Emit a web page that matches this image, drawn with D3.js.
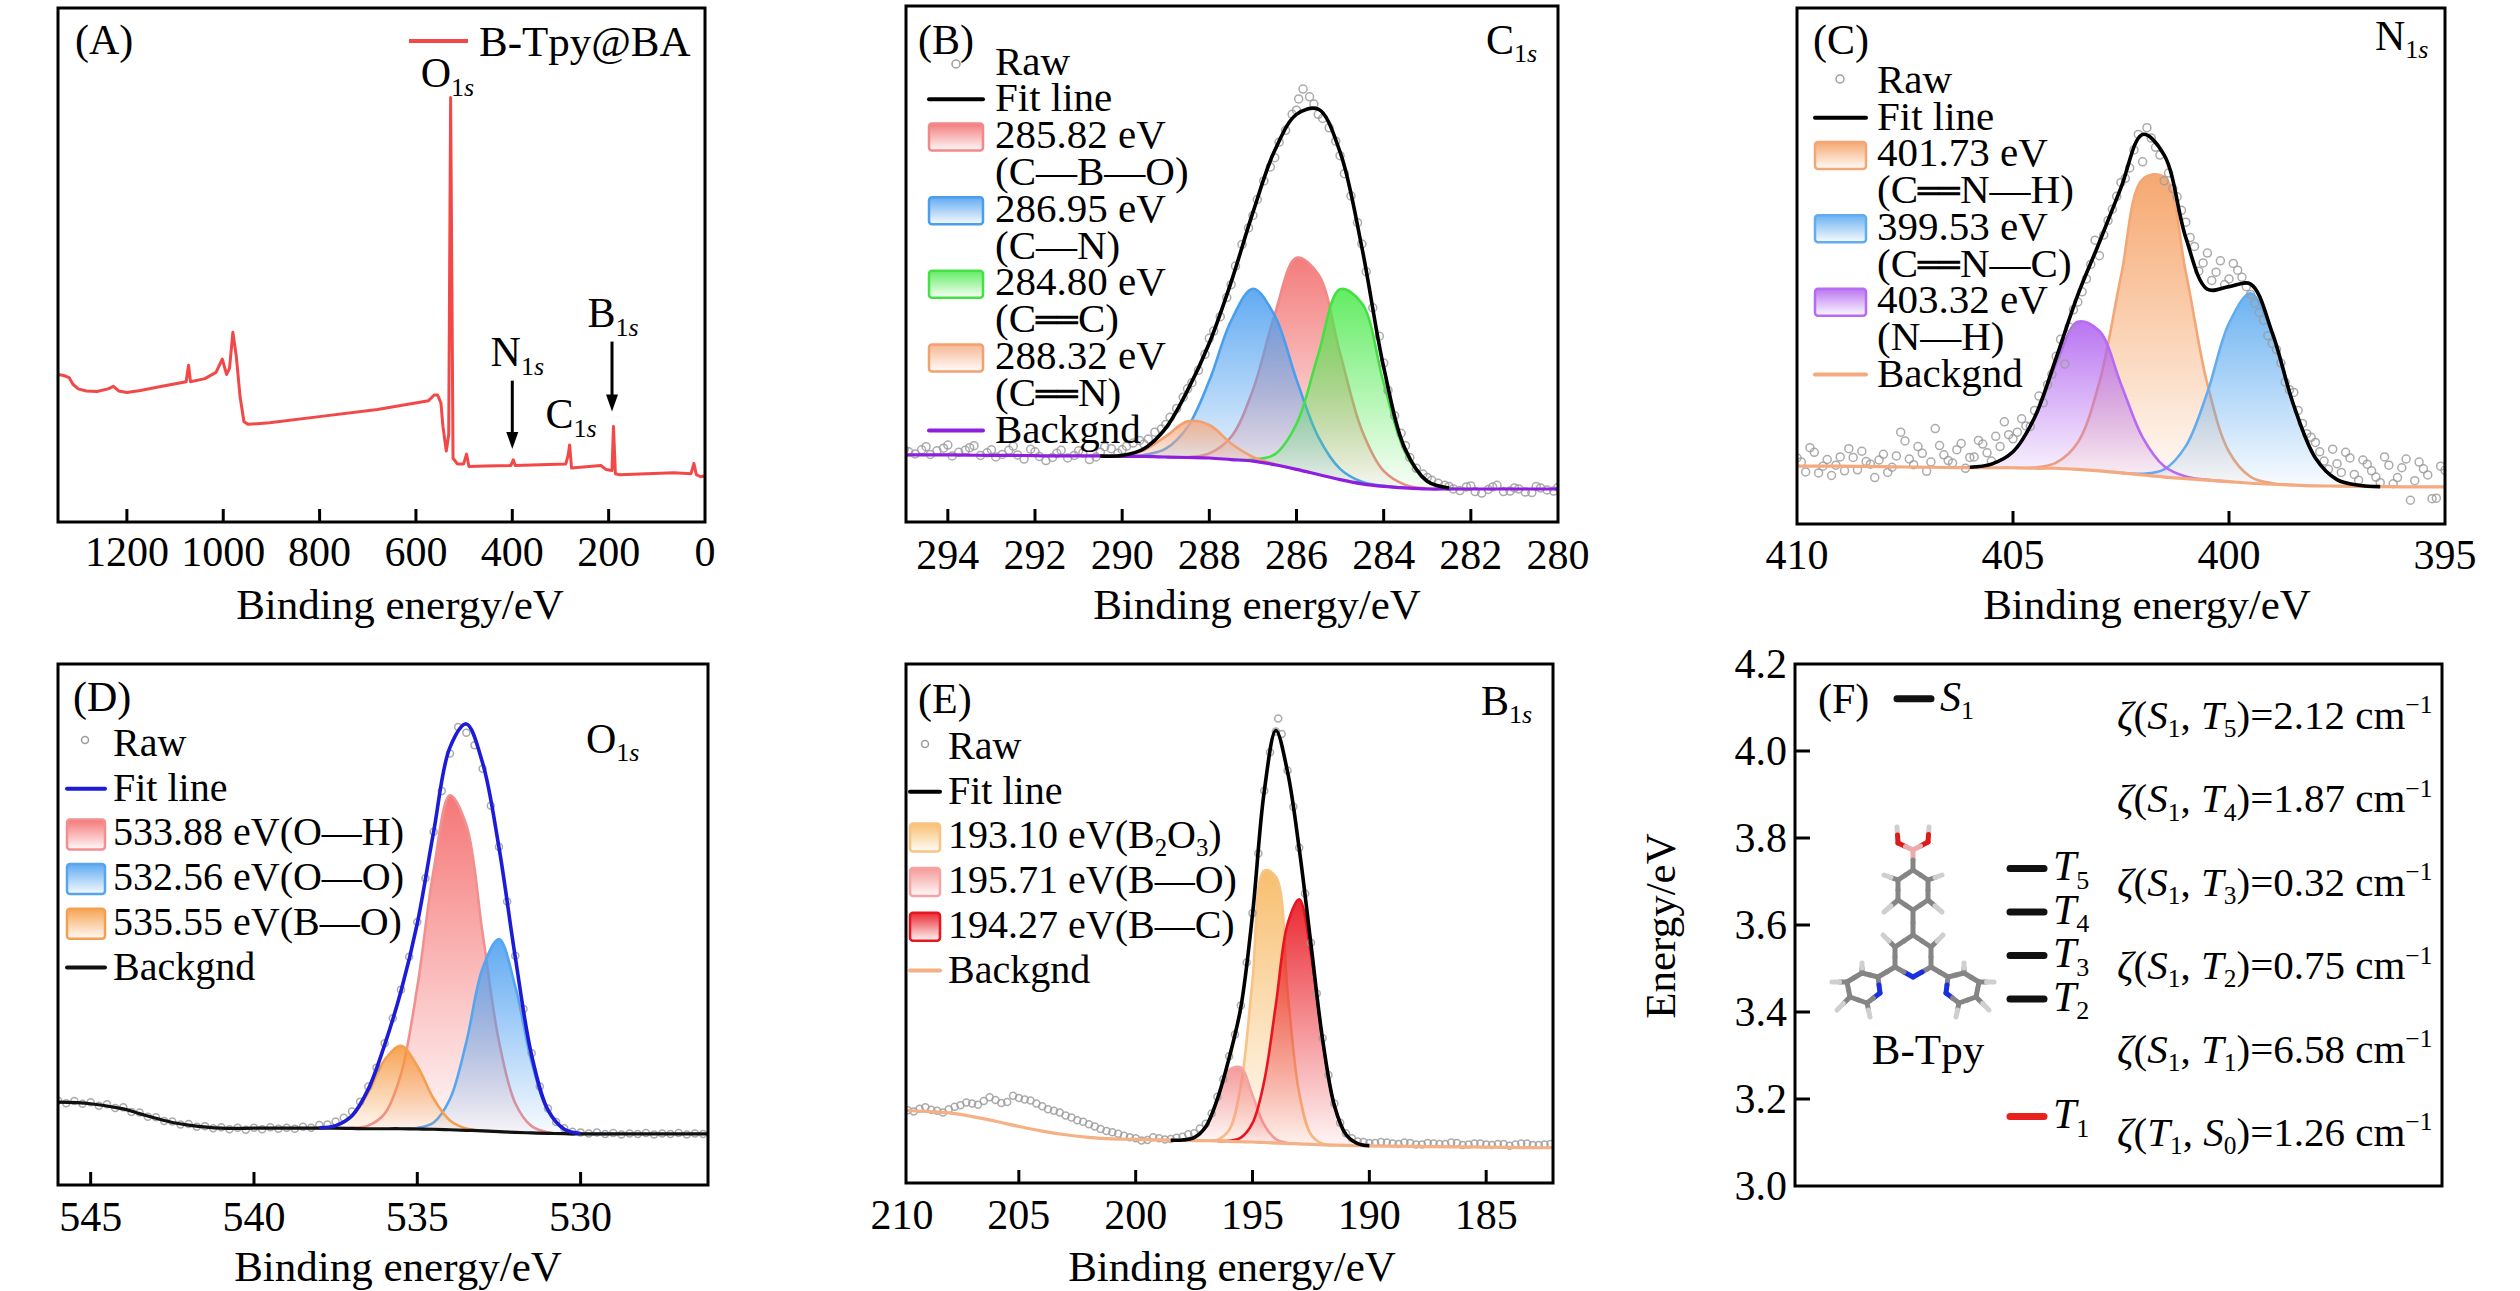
<!DOCTYPE html>
<html><head><meta charset="utf-8">
<script src="https://cdn.jsdelivr.net/npm/d3@7"></script>
<style>
html,body{margin:0;padding:0;background:#fff;}
svg{display:block;}
text{font-family:"Liberation Serif","Times New Roman",serif;fill:#000;}
</style></head><body>
<svg id="chart" width="2520" height="1291"></svg>
<script>
// ================= DATA =================
// Panel A: survey spectrum (intensity in % of plot height)
const aEnergy = [1343,1331,1320,1312,1301,1284,1262,1239,1228,1217,1200,1172,1127,1077,1072,1068,1038,1015,1002,993,987,980,973,965,957,948,904,792,680,574,562,555,548,544,537,532,528,523,514,501,495,490,456,403,398,394,289,284,281,277,216,205,193,190,186,177,65,29,23,18,9,0];
const aIntensity = [28.7,28.5,28.1,26.8,25.9,25.5,25.4,25.9,26.4,25.5,25.2,25.6,26.4,27.3,30.5,27.3,27.9,29.1,31.7,28.7,29.9,36.9,32.3,24.3,19.5,19.0,19.3,20.6,21.9,23.6,24.7,24.7,23.1,18.6,13.8,17.0,82.6,12.4,11.3,11.3,13.2,10.8,10.9,11.0,12.1,11.0,11.3,13.0,15.0,10.5,11.0,10.2,10.0,18.6,9.4,9.2,9.6,9.4,11.4,9.2,8.8,9.0];
const aTicks = [1200,1000,800,600,400,200,0];
const aPeakLabels = [
  {name:"O", e:590, v:84.6},
  {name:"N", e:445, v:30.3},
  {name:"C", e:331, v:18.2},
  {name:"B", e:244, v:37.9}
];
const aArrows = [{e:400, from:27.5, to:14.2},{e:193, from:35.1, to:21.5}];

// Panel B: C1s
const bEnergy = [295,294.5,294,293.5,293,292.5,292,291.5,291,290.5,290,289.5,289,288.5,288,287.5,287,286.5,286,285.5,285,284.5,284,283.5,283,282.5,282,281.5,281,280.5,280];
const bBackground = [13.0,13.0,13.0,12.95,12.9,12.9,12.85,12.8,12.8,12.8,12.7,12.7,12.6,12.5,12.4,12.1,11.8,11.1,10.2,9.2,8.2,7.4,6.9,6.6,6.4,6.4,6.4,6.4,6.4,6.4,6.4];
const bFit = [null,null,null,null,null,null,null,null,null,12.8,12.9,14.2,18.2,25.5,34.7,46.5,60.0,72.0,79.0,80.0,71.7,53.2,30.0,14.0,7.9,6.6,null,null,null,null,null];
const bPeakCBO = [null,null,null,null,null,null,null,null,null,null,null,null,null,12.6,13.3,16.5,25.6,40.2,51.2,48.0,32.7,17.8,9.9,7.2,6.5,null,null,null,null,null,null];
const bPeakCN = [null,null,null,null,null,null,null,null,null,null,12.75,13.0,14.2,18.4,27.4,39.0,45.2,40.0,27.6,16.5,10.3,7.8,7.0,null,null,null,null,null,null,null,null];
const bPeakCC = [null,null,null,null,null,null,null,null,null,null,null,null,null,null,null,null,12.1,13.1,19.0,32.5,45.1,42.4,26.9,13.4,7.8,6.6,null,null,null,null,null];
const bPeakCdN = [null,null,null,null,null,null,null,null,null,null,12.9,13.9,16.6,19.5,18.8,15.2,12.6,11.2,null,null,null,null,null,null,null,null,null,null,null,null,null];
const bRaw = [[295,14.1],[294.75,13.2],[294.5,14.6],[294.25,13.8],[294,14.9],[293.75,13.5],[293.5,14.4],[293.25,12.9],[293,14.0],[292.75,13.1],[292.5,14.7],[292.25,12.2],[292,13.6],[291.75,11.9],[291.5,13.3],[291.25,12.4],[291,13.8],[290.75,12.1],[290.5,13.5],[290.25,14.2],[290,14.0],[289.75,15.3],[289.5,15.1],[289.25,17.4],[289,18.9],[288.75,22.0],[288.5,25.8],[288.25,29.4],[288,35.6],[287.75,39.8],[287.5,46.0],[287.25,53.8],[287,59.4],[286.75,66.1],[286.5,70.6],[286.25,75.9],[286.1,79.0],[286,79.8],[285.85,83.9],[285.7,82.4],[285.5,79.0],[285.25,76.4],[285,71.0],[284.75,63.2],[284.5,53.9],[284.25,41.5],[284,30.8],[283.75,20.6],[283.5,14.8],[283.25,10.4],[283,8.6],[282.75,7.5],[282.5,6.9],[282.25,6.1],[282,7.0],[281.75,5.6],[281.5,6.8],[281.25,5.9],[281,6.6],[280.75,5.8],[280.5,6.9],[280.25,6.2],[280,6.7],
[294.9,13.6],[294.6,14.0],[294.4,13.1],[294.1,14.3],[293.9,12.8],[293.6,13.9],[293.4,14.8],[293.1,13.4],[292.9,12.6],[292.6,13.9],[292.4,13.0],[292.1,14.1],[291.9,12.7],[291.6,12.5],[291.4,13.9],[291.1,12.9],[290.9,13.4],[290.6,12.6],[290.4,14.6],[290.1,13.3],[289.9,14.7],[289.6,15.8],[289.4,16.1],[289.1,18.0],[288.9,20.3],[288.6,24.2],[288.4,27.0],[288.1,32.5],[287.9,37.0],[287.6,43.5],[287.4,49.6],[287.1,57.0],[286.9,62.5],[286.6,68.8],[286.4,73.6],[285.95,82.0],[285.6,81.0],[285.4,78.2],[285.1,73.8],[284.9,67.5],[284.6,58.0],[284.4,48.5],[284.1,36.0],[283.9,25.5],[283.6,17.2],[283.4,12.5],[283.1,9.3],[282.9,8.1],[282.6,7.1],[282.4,6.4],[282.1,6.8],[281.9,5.9],[281.6,6.3],[281.4,7.1],[281.1,6.0],[280.9,6.4],[280.6,5.7],[280.4,6.6],[280.1,6.0]];
const bTicks = [294,292,290,288,286,284,282,280];

// Panel C: N1s
const cEnergy = [410,409.5,409,408.5,408,407.5,407,406.5,406,405.5,405,404.5,404,403.5,403,402.5,402,401.5,401,400.5,400,399.5,399,398.5,398,397.5,397,396.5,396,395.5,395];
const cBackground = [11.2,11.2,11.2,11.15,11.1,11.05,11.0,10.95,10.9,10.9,10.9,10.8,10.8,10.6,10.3,9.9,9.5,9.1,8.8,8.5,8.2,7.9,7.7,7.55,7.4,7.35,7.3,7.25,7.2,7.2,7.2];
const cFit = [null,null,null,null,null,null,null,null,11.0,11.6,14.0,20.65,32.2,44.4,54.6,65.2,75.5,71.5,55.5,45.5,46.0,46.5,37.1,22.95,12.8,8.6,7.5,7.25,null,null,null];
const cPeakCNH = [null,null,null,null,null,null,null,null,null,null,null,10.95,11.9,15.8,27.5,48.0,66.8,67.3,48.8,27.1,14.0,9.15,7.9,null,null,null,null,null,null,null,null];
const cPeakCNC = [null,null,null,null,null,null,null,null,null,null,null,null,null,null,null,null,9.75,10.6,15.1,25.5,38.9,44.7,36.9,23.0,12.8,8.6,7.5,null,null,null,null];
const cPeakNH = [null,null,null,null,null,null,null,null,11.0,11.6,14.0,20.5,31.1,39.2,37.4,27.1,16.8,11.2,9.2,8.55,null,null,null,null,null,null,null,null,null,null,null];
const cRaw = [[410.0,12.8],[409.8,10.1],[409.6,13.9],[409.4,11.2],[409.2,9.4],[409.0,13.0],[408.8,14.6],[408.6,10.5],[408.4,12.1],[408.2,9.0],[408.0,13.5],[407.8,11.0],[407.6,17.8],[407.4,12.6],[407.2,15.0],[407.0,10.2],[406.8,18.5],[406.6,13.4],[406.4,11.8],[406.2,15.6],[406.0,12.9],[405.8,16.2],[405.6,13.8],[405.4,17.0],[405.2,19.8],[405.0,16.5],[404.8,20.4],[404.6,18.9],[404.4,24.8],[404.2,27.0],[404.0,32.5],[403.8,31.0],[403.6,41.5],[403.4,45.0],[403.2,50.3],[403.0,52.0],[402.8,58.8],[402.6,63.5],[402.4,67.0],[402.2,72.5],[402.0,70.2],[401.8,74.8],[401.6,71.5],[401.4,68.0],[401.2,63.4],[401.0,58.5],[400.8,53.8],[400.6,50.6],[400.4,47.2],[400.2,51.0],[400.0,47.5],[399.8,49.2],[399.6,46.0],[399.4,42.8],[399.2,39.5],[399.0,35.0],[398.8,31.2],[398.6,26.0],[398.4,22.0],[398.2,17.5],[398.0,15.8],[397.8,12.2],[397.6,14.5],[397.4,10.0],[397.2,12.8],[397.0,8.5],[396.8,11.6],[396.6,9.1],[396.4,13.0],[396.2,7.8],[396.0,10.9],[395.8,4.6],[395.6,12.0],[395.4,9.5],[395.2,5.0],[395.0,10.4],
[409.9,12.0],[409.7,14.8],[409.5,9.9],[409.3,12.5],[409.1,11.4],[408.9,10.3],[408.7,12.9],[408.5,14.1],[408.3,11.6],[408.1,12.4],[407.9,10.0],[407.7,13.2],[407.5,16.1],[407.3,11.5],[407.1,13.7],[406.9,12.0],[406.7,15.2],[406.5,12.3],[406.3,14.4],[406.1,10.8],[405.9,13.0],[405.7,15.5],[405.5,12.2],[405.3,15.0],[405.1,17.3],[404.9,17.8],[404.7,19.0],[404.5,22.0],[404.3,23.5],[404.1,29.0],[403.9,35.8],[403.7,38.2],[403.5,43.0],[403.3,47.5],[403.1,55.0],[402.9,56.0],[402.7,61.0],[402.5,66.2],[402.3,69.0],[402.1,75.5],[401.9,76.8],[401.7,73.0],[401.5,66.5],[401.3,65.0],[401.1,60.8],[400.9,55.5],[400.7,49.0],[400.5,52.5],[400.3,48.8],[400.1,46.4],[399.9,50.5],[399.7,47.8],[399.5,44.5],[399.3,41.0],[399.1,36.5],[398.9,33.8],[398.7,27.5],[398.5,25.5],[398.3,19.5],[398.1,16.8],[397.9,14.0],[397.7,10.6],[397.5,11.7],[397.3,13.9],[397.1,9.6],[396.9,12.4],[396.7,10.3],[396.5,8.0],[396.3,11.4],[396.1,9.0],[395.9,12.6],[395.7,8.4],[395.5,10.7],[395.3,4.9],[395.1,11.2]];
const cTicks = [410,405,400,395];

// Panel D: O1s
const dEnergy = [546,545,544,543.5,543,542.5,542,541,540,539,538,537.5,537,536.5,536,535.5,535,534.5,534,533.5,533,532.5,532,531.5,531,530.5,530,529,528,527,526];
const dBackground = [15.9,15.6,14.6,13.7,12.8,12.0,11.5,10.9,10.9,10.9,10.9,10.9,10.85,10.8,10.8,10.8,10.75,10.7,10.6,10.5,10.4,10.25,10.1,10.0,9.9,9.85,9.8,9.8,9.8,9.8,9.8];
const dFit = [null,null,null,null,null,null,null,null,null,null,10.97,11.4,13.3,18.4,26.9,37.2,50.2,67.8,84.0,88.5,81.0,64.8,43.7,24.9,14.4,10.7,9.9,null,null,null,null];
const dPeakOH = [null,null,null,null,null,null,null,null,null,null,null,null,10.93,11.4,13.7,21.3,38.0,60.4,74.8,69.1,48.3,27.6,15.7,11.3,10.1,null,null,null,null,null,null];
const dPeakOO = [null,null,null,null,null,null,null,null,null,null,null,null,null,null,null,null,10.95,12.0,16.5,27.4,41.6,47.2,38.1,23.6,14.2,10.7,9.9,null,null,null,null];
const dPeakBO = [null,null,null,null,null,null,null,null,null,null,10.97,11.4,13.2,17.8,24.0,26.7,22.85,16.55,12.4,10.85,10.45,null,null,null,null,null,null,null,null,null,null];
const dRaw = [[546,16.2],[545.75,15.7],[545.5,16.1],[545.25,15.6],[545,15.9],[544.75,15.2],[544.5,15.5],[544.25,14.8],[544,14.9],[543.75,14.0],[543.5,13.9],[543.25,13.1],[543,13.0],[542.75,12.3],[542.5,12.2],[542.25,11.6],[542,11.7],[541.75,11.2],[541.5,11.3],[541.25,10.9],[541,11.1],[540.75,10.7],[540.5,11.0],[540.25,10.6],[540,11.0],[539.75,10.7],[539.5,11.1],[539.25,10.8],[539,11.0],[538.75,10.8],[538.5,11.2],[538.25,11.0],[538,11.5],[537.75,11.6],[537.5,12.2],[537.25,12.9],[537,14.1],[536.75,16.0],[536.5,18.9],[536.25,22.5],[536,27.2],[535.75,32.0],[535.5,37.5],[535.25,43.8],[535,50.5],[534.75,58.9],[534.5,67.8],[534.25,75.6],[534,82.8],[533.75,87.9],[533.5,86.8],[533.25,84.4],[533,79.9],[532.75,72.8],[532.5,64.9],[532.25,54.4],[532,44.0],[531.75,33.8],[531.5,25.3],[531.25,18.9],[531,14.7],[530.75,12.1],[530.5,10.9],[530.25,10.2],[530,10.1],[529.75,9.9],[529.5,10.1],[529.25,9.8],[529,10.0],[528.75,9.7],[528.5,9.9],[528.25,9.8],[528,10.0],[527.75,9.7],[527.5,9.9],[527.25,9.8],[527,10.0],[526.75,9.7],[526.5,9.9],[526.25,9.8],[526,9.9]];
const dTicks = [545,540,535,530];

// Panel E: B1s
const eEnergy = [210,209,208,207,206,205,204,203,202,201,200,199,198.5,198,197.5,197,196.5,196,195.5,195,194.5,194,193.5,193,192.5,192,191.5,191,190.5,190,189,188,187,186,185,184,183,182];
const eBackground = [14.0,13.8,13.5,12.8,11.9,10.9,10.0,9.3,8.8,8.5,8.4,8.3,8.25,8.2,8.18,8.15,8.1,8.0,7.95,7.9,7.8,7.7,7.6,7.55,7.45,7.35,7.3,7.25,7.2,7.15,7.1,7.05,7.0,6.95,6.9,6.85,6.8,6.8];
const eFit = [null,null,null,null,null,null,null,null,null,null,null,null,8.25,8.27,8.75,10.85,16.26,24.1,33.85,51.75,75.4,87.2,79.2,64.35,46.05,27.66,15.0,9.35,7.6,7.2,null,null,null,null,null,null,null,null];
const ePeakB2O3 = [null,null,null,null,null,null,null,null,null,null,null,null,null,null,null,null,8.36,10.2,18.75,39.1,60.2,59.0,36.8,17.25,9.35,7.56,null,null,null,null,null,null,null,null,null,null,null,null];
const ePeakBO = [null,null,null,null,null,null,null,null,null,null,null,null,null,8.27,8.75,10.85,16.0,21.8,22.25,16.9,11.2,8.46,7.7,null,null,null,null,null,null,null,null,null,null,null,null,null,null,null];
const ePeakBC = [null,null,null,null,null,null,null,null,null,null,null,null,null,null,null,null,null,8.12,8.75,11.55,19.6,34.4,49.9,54.65,44.15,27.45,15.0,9.35,7.6,null,null,null,null,null,null,null,null,null];
const eRaw = [[210,14.4],[209.5,13.8],[209,14.6],[208.5,13.9],[208,14.2],[207.5,15.0],[207,15.3],[206.5,15.8],[206,16.0],[205.5,15.6],[205,16.4],[204.5,15.9],[204,14.8],[203.5,13.9],[203,13.0],[202.5,12.1],[202,11.3],[201.5,10.4],[201,9.8],[200.5,9.1],[200,8.6],[199.5,8.3],[199,8.6],[198.5,8.5],[198,8.9],
[209.75,14.0],[209.25,14.3],[208.75,14.1],[208.25,13.6],[207.75,14.7],[207.25,15.5],[206.75,15.1],[206.25,16.5],[205.75,15.4],[205.25,16.8],[204.75,16.1],[204.25,15.3],[203.75,14.2],[203.25,13.6],[202.75,12.6],[202.25,11.8],[201.75,10.9],[201.25,10.0],[200.75,9.5],[200.25,8.8],[199.75,8.2],[199.25,8.8],[198.75,8.4],[198.25,8.7],
[197.75,9.4],[197.5,9.6],[197.25,10.5],[197,11.4],[196.75,13.4],[196.5,16.6],[196.25,20.0],[196,24.4],[195.75,28.6],[195.5,34.2],[195.25,42.5],[195,52.0],[194.75,63.5],[194.5,75.6],[194.25,83.0],[194,87.0],[193.9,89.5],[193.75,86.5],[193.5,79.5],[193.25,72.5],[193,64.6],[192.75,55.8],[192.5,46.3],[192.25,36.5],[192,27.9],[191.75,20.8],[191.5,15.3],[191.25,11.6],[191,9.6],[190.75,8.6],[190.5,8.0],[190.25,7.9],[190,7.7],
[189.5,7.9],[189,7.6],[188.5,7.8],[188,7.4],[187.5,7.7],[187,7.5],[186.5,7.8],[186,7.3],[185.5,7.6],[185,7.4],[184.5,7.5],[184,7.2],[183.5,7.6],[183,7.3],[182.5,7.4],[182,7.2],
[189.75,7.7],[189.25,7.8],[188.75,7.5],[188.25,7.7],[187.75,7.4],[187.25,7.6],[186.75,7.5],[186.25,7.7],[185.75,7.4],[185.25,7.6],[184.75,7.3],[184.25,7.5],[183.75,7.4],[183.25,7.6],[182.75,7.3],[182.25,7.5]];
const eTicks = [210,205,200,195,190,185];

// Panel F: energy levels
const fTicks = [3.0,3.2,3.4,3.6,3.8,4.0,4.2];
const fLevels = [
  {state:"S", n:"1", energy:4.12, color:"#111", col:0},
  {state:"T", n:"5", energy:3.73, color:"#111", col:1},
  {state:"T", n:"4", energy:3.63, color:"#111", col:1},
  {state:"T", n:"3", energy:3.53, color:"#111", col:1},
  {state:"T", n:"2", energy:3.43, color:"#111", col:1},
  {state:"T", n:"1", energy:3.16, color:"#e8201e", col:1}
];
const fSoc = [
  {a:"S", an:"1", b:"T", bn:"5", value:"2.12"},
  {a:"S", an:"1", b:"T", bn:"4", value:"1.87"},
  {a:"S", an:"1", b:"T", bn:"3", value:"0.32"},
  {a:"S", an:"1", b:"T", bn:"2", value:"0.75"},
  {a:"S", an:"1", b:"T", bn:"1", value:"6.58"},
  {a:"T", an:"1", b:"S", bn:"0", value:"1.26"}
];
// B-Tpy molecule (element, local coordinates)
const molAtoms = [["H",-16,-113],["H",16,-113],["O",-15,-97],["O",15,-98],["B",0,-90],
 ["C",0,-70],["C",15,-60],["C",15,-40],["C",0,-30],["C",-15,-40],["C",-15,-60],
 ["H",29,-65],["H",29,-28],["H",-29,-28],["H",-29,-65],
 ["C",0,-5],["C",18,7],["C",18,27],["N",0,37],["C",-18,27],["C",-18,7],
 ["H",30,-5],["H",-30,-5],
 ["C",-35,37],["N",-33,53],["C",-46,63],["C",-63,57],["C",-66,42],["C",-51,33],
 ["H",-51,23],["H",-81,42],["H",-76,70],["H",-43,77],
 ["C",35,37],["N",33,53],["C",46,63],["C",63,57],["C",66,42],["C",51,33],
 ["H",51,23],["H",81,42],["H",76,70],["H",43,77]];
const molBonds = [[0,2],[1,3],[2,4],[3,4],[4,5],[5,6],[6,7],[7,8],[8,9],[9,10],[10,5],[6,11],[7,12],[9,13],[10,14],
 [8,15],[15,16],[16,17],[17,18],[18,19],[19,20],[20,15],[16,21],[20,22],
 [19,23],[23,24],[24,25],[25,26],[26,27],[27,28],[28,23],[28,29],[27,30],[26,31],[25,32],
 [17,33],[33,34],[34,35],[35,36],[36,37],[37,38],[38,33],[38,39],[37,40],[36,41],[35,42]];

// ================= DRAWING =================
const svg = d3.select("#chart");
const defs = svg.append("defs");
const FS = 42;

function rich(g, x, y, str, size, opts = {}) {
  const t = g.append("text").attr("x", x).attr("y", y).attr("font-size", size);
  if (opts.anchor) t.attr("text-anchor", opts.anchor);
  const re = /(_i\{[^}]*\}|_\{[^}]*\}|\^\{[^}]*\}|\*[^*]+\*|═|[^_^*═]+)/g;
  let m, shift = 0;
  while ((m = re.exec(str)) !== null) {
    const tok = m[0];
    let txt = tok, target = 0, fs = size, italic = false, fam = null;
    if (tok.startsWith("_i{")) { txt = tok.slice(3, -1); target = 0.2 * size; fs = 0.62 * size; italic = true; }
    else if (tok.startsWith("_{")) { txt = tok.slice(2, -1); target = 0.2 * size; fs = 0.62 * size; }
    else if (tok.startsWith("^{")) { txt = tok.slice(2, -1); target = -0.38 * size; fs = 0.62 * size; }
    else if (tok.startsWith("*")) { txt = tok.slice(1, -1); italic = true; }
    else if (tok === "═") { txt = "══"; fs = 0.85 * size; fam = "DejaVu Sans"; }
    const ts = t.append("tspan").text(txt).attr("font-size", fs);
    if (target !== shift) { ts.attr("dy", target - shift); shift = target; }
    if (italic) ts.attr("font-style", "italic");
    if (fam) ts.style("font-family", fam);
  }
  return t;
}

let gradCount = 0;
function gradient(color) {
  const id = "grad" + (gradCount++);
  const lg = defs.append("linearGradient").attr("id", id).attr("x1", 0).attr("y1", 0).attr("x2", 0).attr("y2", 1);
  lg.append("stop").attr("offset", "0%").attr("stop-color", color).attr("stop-opacity", 0.88);
  lg.append("stop").attr("offset", "100%").attr("stop-color", color).attr("stop-opacity", 0.04);
  return `url(#${id})`;
}

function frameAxes(g, frame, x, ticks, tickBase, title) {
  const [x0, y0, x1, y1] = frame;
  ticks.forEach(v => {
    const px = x(v);
    if (px > x0 + 3 && px < x1 - 3)
      g.append("line").attr("x1", px).attr("x2", px).attr("y1", y1).attr("y2", y1 - 13)
        .attr("stroke", "#000").attr("stroke-width", 3);
    g.append("text").attr("x", px).attr("y", tickBase).attr("text-anchor", "middle")
      .attr("font-size", FS).text(v);
  });
  g.append("rect").attr("x", x0).attr("y", y0).attr("width", x1 - x0).attr("height", y1 - y0)
    .attr("fill", "none").attr("stroke", "#000").attr("stroke-width", 3);
  g.append("text").attr("x", title.x).attr("y", title.y).attr("text-anchor", "middle")
    .attr("font-size", FS + 1).text("Binding energy/eV");
}

function xpsPanel(p) {
  const [x0, y0, x1, y1] = p.frame;
  const g = svg.append("g");
  const x = d3.scaleLinear().domain(p.xDomain).range([x0, x1]);
  const y = d3.scaleLinear().domain([0, 100]).range([y1, y0]);
  const clipId = "clip" + p.id;
  defs.append("clipPath").attr("id", clipId).append("rect")
    .attr("x", x0).attr("y", y0).attr("width", x1 - x0).attr("height", y1 - y0);
  const plot = g.append("g").attr("clip-path", `url(#${clipId})`);
  const curve = d3.curveCatmullRom.alpha(0.5);

  p.comps.forEach(c => {
    const idx = c.values.map((v, i) => v == null ? -1 : i).filter(i => i >= 0);
    const lo = Math.max(0, idx[0] - 1), hi = Math.min(p.energy.length - 1, idx[idx.length - 1] + 1);
    const pts = d3.range(lo, hi + 1).map(i => ({e: p.energy[i], top: c.values[i] ?? p.bg[i], base: p.bg[i]}));
    plot.append("path").datum(pts)
      .attr("d", d3.area().x(d => x(d.e)).y0(d => y(d.base)).y1(d => y(d.top)).curve(curve))
      .attr("fill", gradient(c.fill));
    plot.append("path").datum(pts)
      .attr("d", d3.line().x(d => x(d.e)).y(d => y(d.top)).curve(curve))
      .attr("fill", "none").attr("stroke", c.stroke).attr("stroke-width", 2.6);
  });

  plot.append("g").selectAll("circle").data(p.raw).join("circle")
    .attr("cx", d => x(d[0])).attr("cy", d => y(d[1])).attr("r", p.rawR)
    .attr("fill", "none").attr("stroke", "#9c9c9c").attr("stroke-width", 1.5).attr("stroke-opacity", 0.85);

  const bgPts = p.energy.map((e, i) => [e, p.bg[i]]);
  plot.append("path").datum(bgPts)
    .attr("d", d3.line().x(d => x(d[0])).y(d => y(d[1])).curve(curve))
    .attr("fill", "none").attr("stroke", p.bgColor).attr("stroke-width", 3.2);

  const fitPts = p.energy.map((e, i) => [e, p.fit[i]]);
  plot.append("path").datum(fitPts)
    .attr("d", d3.line().defined(d => d[1] != null).x(d => x(d[0])).y(d => y(d[1])).curve(curve))
    .attr("fill", "none").attr("stroke", p.fitColor).attr("stroke-width", 3.6);

  frameAxes(g, p.frame, x, p.ticks, p.tickBase, p.title);

  rich(g, p.label.x, p.label.y, p.label.t, FS);
  rich(g, p.element.x, p.element.y, p.element.t, FS);

  // legend
  const L = p.legend;
  let line = 0;
  L.items.forEach(it => {
    const base = L.start + line * L.step;
    const cy = base - 12;
    if (it.k === "raw") {
      g.append("circle").attr("cx", L.rawX).attr("cy", L.rawY).attr("r", p.rawR)
        .attr("fill", "none").attr("stroke", "#9c9c9c").attr("stroke-width", 1.5);
    } else if (it.k === "line") {
      g.append("line").attr("x1", L.x0).attr("x2", L.x1).attr("y1", cy).attr("y2", cy)
        .attr("stroke", it.c).attr("stroke-width", 4).attr("stroke-linecap", "round");
    } else {
      const c = p.comps[it.ci];
      g.append("rect").attr("x", L.x0).attr("y", cy - L.sh / 2 + 1).attr("width", L.x1 - L.x0).attr("height", L.sh)
        .attr("rx", 3).attr("fill", gradient(c.fill)).attr("stroke", c.stroke).attr("stroke-width", 2.5);
    }
    it.t.forEach(s => {
      rich(g, L.tx, L.start + line * L.step, s, L.fs);
      line++;
    });
  });
}

// ---------- Panel A ----------
(function () {
  const frame = [58, 8, 705, 522];
  const [x0, y0, x1, y1] = frame;
  const g = svg.append("g");
  const x = d3.scaleLinear().domain([1343, 0]).range([x0, x1]);
  const y = d3.scaleLinear().domain([0, 100]).range([y1, y0]);
  const pts = aEnergy.map((e, i) => [e, aIntensity[i]]);
  g.append("path").datum(pts).attr("d", d3.line().x(d => x(d[0])).y(d => y(d[1])))
    .attr("fill", "none").attr("stroke", "#f24848").attr("stroke-width", 3).attr("stroke-linejoin", "round");
  frameAxes(g, frame, x, aTicks, 566, {x: 400, y: 619});
  rich(g, 75, 54, "(A)", FS);
  g.append("line").attr("x1", 409).attr("x2", 468).attr("y1", 41).attr("y2", 41)
    .attr("stroke", "#f24848").attr("stroke-width", 4);
  rich(g, 479, 56, "B-Tpy@BA", FS + 1);
  aPeakLabels.forEach(l => rich(g, x(l.e), y(l.v), l.name + "_{1}_i{s}", FS));
  aArrows.forEach(a => {
    const px = x(a.e), ya = y(a.from), yb = y(a.to);
    g.append("line").attr("x1", px).attr("x2", px).attr("y1", ya).attr("y2", yb - 12)
      .attr("stroke", "#000").attr("stroke-width", 3);
    g.append("path").attr("d", `M${px - 6},${yb - 17} L${px + 6},${yb - 17} L${px},${yb} Z`).attr("fill", "#000");
  });
})();

// ---------- Panel B ----------
xpsPanel({
  id: "B", frame: [906, 6, 1558, 522], xDomain: [294.96, 280], ticks: bTicks, tickBase: 569,
  title: {x: 1257, y: 619},
  energy: bEnergy, bg: bBackground, bgColor: "#8e1fe0", fit: bFit, fitColor: "#000",
  comps: [
    {values: bPeakCBO, fill: "#f26a6a", stroke: "#f28888"},
    {values: bPeakCN, fill: "#4d9ff0", stroke: "#4a9eee"},
    {values: bPeakCC, fill: "#4eea4e", stroke: "#44e044"},
    {values: bPeakCdN, fill: "#f5ad84", stroke: "#f3a070"}
  ],
  raw: bRaw, rawR: 4,
  label: {t: "(B)", x: 918, y: 54}, element: {t: "C_{1}_i{s}", x: 1486, y: 54},
  legend: {x0: 929, x1: 983, tx: 995, start: 74.5, step: 36.8, sh: 27, rawX: 956, rawY: 64, fs: 41,
    items: [
      {k: "raw", t: ["Raw"]},
      {k: "line", c: "#000", t: ["Fit line"]},
      {k: "sw", ci: 0, t: ["285.82 eV", "(C—B—O)"]},
      {k: "sw", ci: 1, t: ["286.95 eV", "(C—N)"]},
      {k: "sw", ci: 2, t: ["284.80 eV", "(C═C)"]},
      {k: "sw", ci: 3, t: ["288.32 eV", "(C═N)"]},
      {k: "line", c: "#8e1fe0", t: ["Backgnd"]}
    ]}
});

// ---------- Panel C ----------
xpsPanel({
  id: "C", frame: [1797, 8, 2445, 524], xDomain: [410, 395], ticks: cTicks, tickBase: 569,
  title: {x: 2147, y: 619},
  energy: cEnergy, bg: cBackground, bgColor: "#f4a97e", fit: cFit, fitColor: "#000",
  comps: [
    {values: cPeakCNH, fill: "#f59c5c", stroke: "#f3a676"},
    {values: cPeakCNC, fill: "#58a8f0", stroke: "#62adf0"},
    {values: cPeakNH, fill: "#b062f0", stroke: "#b86af2"}
  ],
  raw: cRaw, rawR: 4,
  label: {t: "(C)", x: 1813, y: 54}, element: {t: "N_{1}_i{s}", x: 2375, y: 50},
  legend: {x0: 1815, x1: 1866, tx: 1877, start: 93, step: 36.7, sh: 27, rawX: 1840, rawY: 79, fs: 41,
    items: [
      {k: "raw", t: ["Raw"]},
      {k: "line", c: "#000", t: ["Fit line"]},
      {k: "sw", ci: 0, t: ["401.73 eV", "(C═N—H)"]},
      {k: "sw", ci: 1, t: ["399.53 eV", "(C═N—C)"]},
      {k: "sw", ci: 2, t: ["403.32 eV", "(N—H)"]},
      {k: "line", c: "#f4a97e", t: ["Backgnd"]}
    ]}
});

// ---------- Panel D ----------
xpsPanel({
  id: "D", frame: [58, 664, 708, 1185], xDomain: [546, 526.1], ticks: dTicks, tickBase: 1231,
  title: {x: 398, y: 1281},
  energy: dEnergy, bg: dBackground, bgColor: "#111", fit: dFit, fitColor: "#1c1cd8",
  comps: [
    {values: dPeakOH, fill: "#f46464", stroke: "#f29090"},
    {values: dPeakOO, fill: "#4a9ef0", stroke: "#55a5ef"},
    {values: dPeakBO, fill: "#f5973c", stroke: "#f5a050"}
  ],
  raw: dRaw, rawR: 3.5,
  label: {t: "(D)", x: 73, y: 711}, element: {t: "O_{1}_i{s}", x: 586, y: 753},
  legend: {x0: 67, x1: 105, tx: 113, start: 756, step: 44.7, sh: 30, rawX: 85, rawY: 740, fs: 40,
    items: [
      {k: "raw", t: ["Raw"]},
      {k: "line", c: "#1c1cd8", t: ["Fit line"]},
      {k: "sw", ci: 0, t: ["533.88 eV(O—H)"]},
      {k: "sw", ci: 1, t: ["532.56 eV(O—O)"]},
      {k: "sw", ci: 2, t: ["535.55 eV(B—O)"]},
      {k: "line", c: "#111", t: ["Backgnd"]}
    ]}
});

// ---------- Panel E ----------
xpsPanel({
  id: "E", frame: [906, 664, 1553, 1183], xDomain: [209.83, 182.14], ticks: eTicks, tickBase: 1229,
  title: {x: 1232, y: 1281},
  energy: eEnergy, bg: eBackground, bgColor: "#f5b086", fit: eFit, fitColor: "#000",
  comps: [
    {values: ePeakB2O3, fill: "#f7b65c", stroke: "#f8c384"},
    {values: ePeakBO, fill: "#f48c8c", stroke: "#f5a3a3"},
    {values: ePeakBC, fill: "#e80c16", stroke: "#e8141e"}
  ],
  raw: eRaw, rawR: 3.5,
  label: {t: "(E)", x: 918, y: 713}, element: {t: "B_{1}_i{s}", x: 1481, y: 715},
  legend: {x0: 910, x1: 940, tx: 948, start: 759, step: 44.7, sh: 28, rawX: 925, rawY: 744, fs: 40,
    items: [
      {k: "raw", t: ["Raw"]},
      {k: "line", c: "#000", t: ["Fit line"]},
      {k: "sw", ci: 0, t: ["193.10 eV(B_{2}O_{3})"]},
      {k: "sw", ci: 1, t: ["195.71 eV(B—O)"]},
      {k: "sw", ci: 2, t: ["194.27 eV(B—C)"]},
      {k: "line", c: "#f5b086", t: ["Backgnd"]}
    ]}
});

// ---------- Panel F ----------
(function () {
  const frame = [1795, 664, 2442, 1186];
  const [x0, y0, x1, y1] = frame;
  const g = svg.append("g");
  const y = d3.scaleLinear().domain([3.0, 4.2]).range([y1, y0]);
  fTicks.forEach(v => {
    const py = y(v);
    if (py > y0 + 3 && py < y1 - 3)
      g.append("line").attr("x1", x0).attr("x2", x0 + 15).attr("y1", py).attr("y2", py)
        .attr("stroke", "#000").attr("stroke-width", 3);
    g.append("text").attr("x", 1787).attr("y", py + 14).attr("text-anchor", "end")
      .attr("font-size", FS).text(v.toFixed(1));
  });
  g.append("rect").attr("x", x0).attr("y", y0).attr("width", x1 - x0).attr("height", y1 - y0)
    .attr("fill", "none").attr("stroke", "#000").attr("stroke-width", 3);
  g.append("text").attr("transform", "translate(1675,926) rotate(-90)").attr("text-anchor", "middle")
    .attr("font-size", FS + 1).text("Energy/eV");
  rich(g, 1818, 713, "(F)", FS);

  const cols = [{xa: 1897, xb: 1931, tx: 1940}, {xa: 2010, xb: 2044, tx: 2053}];
  fLevels.forEach(l => {
    const c = cols[l.col], py = y(l.energy);
    g.append("line").attr("x1", c.xa).attr("x2", c.xb).attr("y1", py).attr("y2", py)
      .attr("stroke", l.color).attr("stroke-width", 7).attr("stroke-linecap", "round");
    rich(g, c.tx, py + 12, `*${l.state}*_{${l.n}}`, FS);
  });
  fSoc.forEach((r, i) => {
    rich(g, 2117, 729 + i * 83.4, `*ζ*(*${r.a}*_{${r.an}}, *${r.b}*_{${r.bn}})=${r.value} cm^{−1}`, 41);
  });

  // molecule
  const ox = 1913, oy = 940;
  const colors = {H: "#cfcfcf", C: "#858585", O: "#de1a1a", N: "#1b2fe0", B: "#eeaaaa"};
  const mg = g.append("g");
  molBonds.forEach(([i, j]) => {
    const a = molAtoms[i], b = molAtoms[j];
    const mx = (a[1] + b[1]) / 2, my = (a[2] + b[2]) / 2;
    [[a, mx, my], [b, mx, my]].forEach(([at, ex, ey]) => {
      mg.append("line").attr("x1", ox + at[1]).attr("y1", oy + at[2]).attr("x2", ox + ex).attr("y2", oy + ey)
        .attr("stroke", colors[at[0]]).attr("stroke-width", 5).attr("stroke-linecap", "round");
    });
  });
  g.append("text").attr("x", 1928).attr("y", 1064).attr("text-anchor", "middle")
    .attr("font-size", FS + 1).text("B-Tpy");
})();
</script></body></html>
